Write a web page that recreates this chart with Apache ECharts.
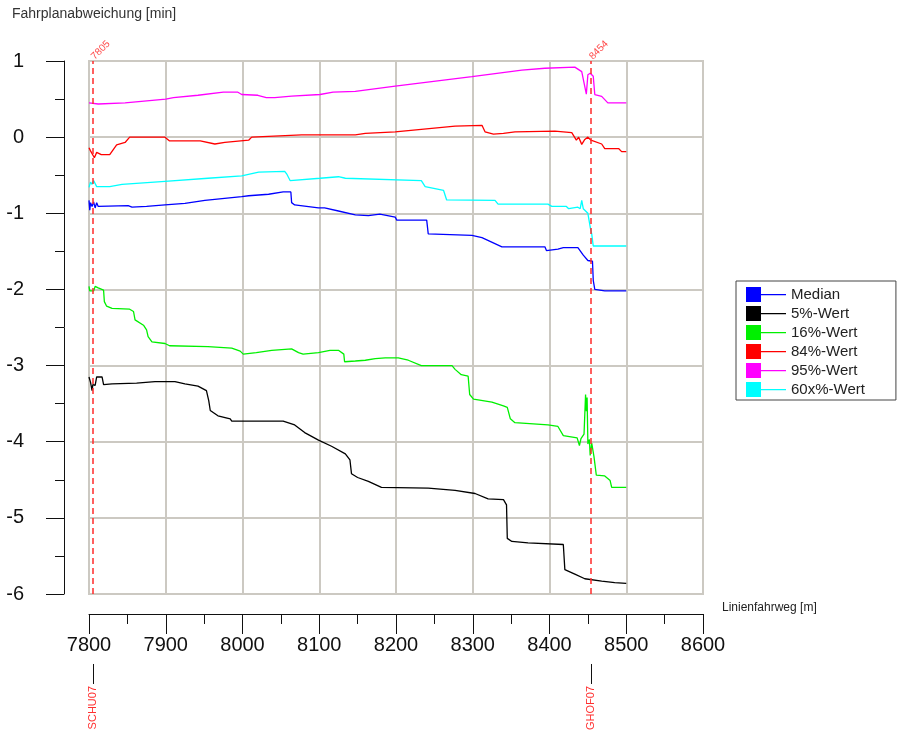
<!DOCTYPE html>
<html>
<head>
<meta charset="utf-8">
<script src="https://cdn.jsdelivr.net/npm/echarts@6.0.0/dist/echarts.min.js"></script>
<style>
  html, body { margin: 0; padding: 0; background: #fff; }
  #chart { width: 904px; height: 733px; }
</style>
</head>
<body>
<div id="chart"></div>
<script>
// Linienfahrweg [m] -> Fahrplanabweichung [min]
var median = [
  [7800, -0.83], [7801, -0.96], [7802, -0.86], [7804, -0.91], [7806, -0.85], [7808, -0.93],
  [7810, -0.86], [7812, -0.91], [7851, -0.90], [7856, -0.92], [7875, -0.91], [7899, -0.89],
  [7925, -0.87], [7951, -0.83], [7999, -0.78], [8008, -0.77], [8034, -0.75], [8053, -0.72],
  [8063, -0.72], [8064, -0.86], [8068, -0.89], [8099, -0.93], [8107, -0.93], [8125, -0.97],
  [8147, -1.02], [8164, -1.03], [8179, -1.01], [8199, -1.05], [8201, -1.09], [8240, -1.09],
  [8242, -1.27], [8299, -1.29], [8312, -1.32], [8338, -1.44], [8394, -1.44], [8396, -1.49],
  [8411, -1.47], [8418, -1.45], [8437, -1.45], [8444, -1.55], [8450, -1.62], [8456, -1.63],
  [8457, -1.88], [8459, -2.0], [8472, -2.02], [8500, -2.02]
]
var p05 = [
  [7800, -3.15], [7802, -3.22], [7804, -3.33], [7805, -3.25], [7808, -3.26], [7810, -3.15],
  [7817, -3.15], [7819, -3.25], [7830, -3.24], [7862, -3.23], [7886, -3.21], [7912, -3.21],
  [7925, -3.24], [7942, -3.27], [7953, -3.33], [7956, -3.46], [7958, -3.59], [7968, -3.66],
  [7984, -3.70], [7986, -3.73], [8053, -3.73], [8068, -3.78], [8081, -3.88], [8099, -3.98],
  [8116, -4.06], [8134, -4.16], [8140, -4.24], [8142, -4.42], [8150, -4.47], [8164, -4.52],
  [8181, -4.60], [8242, -4.61], [8277, -4.64], [8303, -4.68], [8320, -4.75], [8340, -4.76],
  [8344, -4.83], [8345, -5.27], [8351, -5.31], [8372, -5.33], [8418, -5.35], [8420, -5.68],
  [8433, -5.74], [8446, -5.80], [8468, -5.83], [8485, -5.85], [8500, -5.86]
]
var p16 = [
  [7800, -1.96], [7801, -2.02], [7806, -2.02], [7808, -1.96], [7810, -1.94], [7812, -1.98],
  [7819, -2.01], [7820, -2.16], [7823, -2.22], [7830, -2.25], [7853, -2.26], [7858, -2.29],
  [7860, -2.40], [7871, -2.47], [7875, -2.53], [7877, -2.62], [7882, -2.69], [7899, -2.71],
  [7905, -2.74], [7955, -2.75], [7986, -2.77], [7997, -2.81], [8001, -2.85], [8018, -2.83],
  [8038, -2.80], [8064, -2.78], [8073, -2.83], [8079, -2.85], [8099, -2.83], [8114, -2.80],
  [8125, -2.80], [8132, -2.85], [8133, -2.95], [8147, -2.94], [8160, -2.93], [8173, -2.91],
  [8186, -2.90], [8203, -2.90], [8216, -2.93], [8233, -3.0], [8273, -3.0], [8277, -3.05],
  [8285, -3.12], [8294, -3.14], [8296, -3.38], [8301, -3.44], [8325, -3.48], [8340, -3.53],
  [8345, -3.55], [8349, -3.70], [8355, -3.75], [8398, -3.78], [8411, -3.80], [8418, -3.92],
  [8436, -3.95], [8439, -4.05], [8441, -3.96], [8445, -3.90], [8447, -3.38], [8448, -3.60],
  [8449, -3.42], [8450, -4.03], [8452, -3.97], [8453, -4.18], [8455, -4.02], [8458, -4.20],
  [8461, -4.44], [8472, -4.45], [8479, -4.51], [8481, -4.60], [8500, -4.60]
]
var p84 = [
  [7800, -0.14], [7802, -0.18], [7807, -0.27], [7810, -0.20], [7816, -0.23], [7827, -0.23],
  [7836, -0.10], [7847, -0.07], [7853, 0.0], [7899, 0.0], [7905, -0.05], [7945, -0.05],
  [7964, -0.09], [7977, -0.07], [8008, -0.04], [8012, 0.0], [8077, 0.03], [8147, 0.03],
  [8160, 0.05], [8199, 0.07], [8277, 0.145], [8312, 0.155], [8316, 0.07], [8327, 0.04],
  [8340, 0.05], [8355, 0.07], [8407, 0.08], [8429, 0.06], [8435, -0.04], [8438, 0.0],
  [8442, -0.095], [8446, -0.03], [8450, 0.0], [8454, -0.04], [8468, -0.09], [8472, -0.15],
  [8490, -0.15], [8494, -0.19], [8500, -0.19]
]
var p95 = [
  [7800, 0.45], [7812, 0.435], [7847, 0.45], [7900, 0.50], [7910, 0.52], [7942, 0.55],
  [7975, 0.59], [7994, 0.59], [7999, 0.56], [8020, 0.55], [8031, 0.52], [8042, 0.52],
  [8064, 0.54], [8101, 0.56], [8118, 0.59], [8147, 0.60], [8199, 0.67], [8299, 0.795],
  [8364, 0.88], [8394, 0.905], [8433, 0.92], [8442, 0.86], [8448, 0.565], [8450, 0.82],
  [8453, 0.84], [8457, 0.80], [8459, 0.56], [8468, 0.535], [8476, 0.45], [8500, 0.45]
]
var p60x = [
  [7800, -0.66], [7802, -0.59], [7804, -0.62], [7806, -0.57], [7810, -0.65], [7827, -0.65],
  [7843, -0.62], [7899, -0.58], [7955, -0.54], [7999, -0.51], [8021, -0.46], [8055, -0.45],
  [8058, -0.49], [8062, -0.57], [8101, -0.54], [8125, -0.52], [8134, -0.54], [8233, -0.57],
  [8238, -0.65], [8262, -0.70], [8266, -0.825], [8329, -0.83], [8333, -0.88], [8398, -0.88],
  [8403, -0.91], [8422, -0.91], [8425, -0.94], [8437, -0.92], [8440, -0.94], [8442, -0.83],
  [8444, -0.94], [8450, -1.0], [8453, -1.18], [8455, -1.27], [8457, -1.43], [8500, -1.43]
]

var seriesNames = ['Median', '5%-Wert', '16%-Wert', '84%-Wert', '95%-Wert', '60x%-Wert']
var seriesColors = ['#0000ff', '#000000', '#00f000', '#ff0000', '#ff00ff', '#00ffff']
var seriesData = [median, p05, p16, p84, p95, p60x]

// Messpunkte (rot gestrichelt) und Haltestellen
var markerPos = [7805, 8454]
var stationPos = [7805, 8454]
var stationNames = ['SCHU07', 'GHOF07']

var FONT = '"Liberation Sans", Arial, sans-serif'
var GRID_COLOR = '#ccc9c2'

var chart = echarts.init(document.getElementById('chart'))

var series = seriesData.map(function(d, i) {
  return {
    name: seriesNames[i],
    type: 'line',
    data: d,
    color: seriesColors[i],
    showSymbol: false,
    symbol: 'none',
    lineStyle: { width: 1.3, color: seriesColors[i] },
    z: 3
  }
})
series[0].markLine = {
  silent: true,
  symbol: 'none',
  label: { show: false },
  lineStyle: { color: '#ff2a2a', type: [6, 4], width: 1.5 },
  data: markerPos.map(function(v) { return { xAxis: v } })
}

chart.setOption({
  animation: false,
  title: {
    text: 'Fahrplanabweichung [min]',
    left: 12,
    top: 7,
    padding: 0,
    textStyle: { fontSize: 14, fontWeight: 'normal', color: '#333', fontFamily: FONT }
  },
  grid: {
    left: 89,
    top: 61,
    width: 614,
    height: 537,
    show: true,
    borderColor: GRID_COLOR,
    borderWidth: 2
  },
  legend: {
    data: seriesNames,
    orient: 'vertical',
    left: 736,
    top: 281,
    itemWidth: 40,
    itemHeight: 15,
    itemGap: 4,
    icon: 'path://M0,0H15V15H0Z M15,7H40V8.3H15Z',
    padding: [6, 31, 3, 10],
    borderColor: '#444',
    borderWidth: 1,
    backgroundColor: '#fff',
    selectedMode: false,
    textStyle: { fontSize: 15, color: '#222', fontFamily: FONT }
  },
  xAxis: [
    {
      type: 'value',
      min: 7800,
      max: 8600,
      interval: 100,
      position: 'bottom',
      offset: 20,
      name: 'Linienfahrweg [m]',
      nameLocation: 'end',
      nameGap: 19,
      nameTextStyle: { fontSize: 12, color: '#222', fontFamily: FONT, verticalAlign: 'bottom', padding: [0, 0, 0, 0] },
      axisLine: { show: true, onZero: false, lineStyle: { color: '#111', width: 1 } },
      axisTick: { show: true, length: 20, lineStyle: { color: '#111' } },
      minorTick: { show: true, splitNumber: 2, length: 10, lineStyle: { color: '#111' } },
      axisLabel: {
        fontSize: 20,
        color: '#111',
        fontFamily: FONT,
        margin: 21,
        formatter: function(v) { return String(v) }
      },
      splitLine: { show: true, lineStyle: { color: GRID_COLOR, width: 2 } }
    },
    {
      // Messpunkt-Beschriftung oben
      type: 'value',
      min: 7800,
      max: 8600,
      position: 'top',
      axisLine: { show: false },
      axisTick: { show: false },
      splitLine: { show: false },
      axisLabel: {
        customValues: markerPos,
        rotate: 45,
        fontSize: 10,
        color: '#ff4a4a',
        fontFamily: FONT,
        margin: 3,
        formatter: function(v) { return String(v) }
      }
    },
    {
      // Haltestellen unter der Achse
      type: 'value',
      min: 7800,
      max: 8600,
      position: 'bottom',
      offset: 70,
      axisLine: { show: false },
      axisTick: { show: true, customValues: stationPos, length: 20, lineStyle: { color: '#111' } },
      splitLine: { show: false },
      axisLabel: {
        customValues: stationPos,
        rotate: 90,
        fontSize: 11,
        color: '#ff3030',
        fontFamily: FONT,
        margin: 22,
        formatter: function(v) { return stationNames[stationPos.indexOf(v)] }
      }
    }
  ],
  yAxis: {
    type: 'value',
    min: -6,
    max: 1,
    interval: 1,
    offset: 25,
    axisLine: { show: true, lineStyle: { color: '#111', width: 1 } },
    axisTick: { show: true, length: 18, lineStyle: { color: '#111' } },
    minorTick: { show: true, splitNumber: 2, length: 9, lineStyle: { color: '#111' } },
    axisLabel: { fontSize: 20, color: '#111', fontFamily: FONT, margin: 40 },
    splitLine: { show: true, lineStyle: { color: GRID_COLOR, width: 2 } }
  },
  series: series
})
</script>
</body>
</html>
